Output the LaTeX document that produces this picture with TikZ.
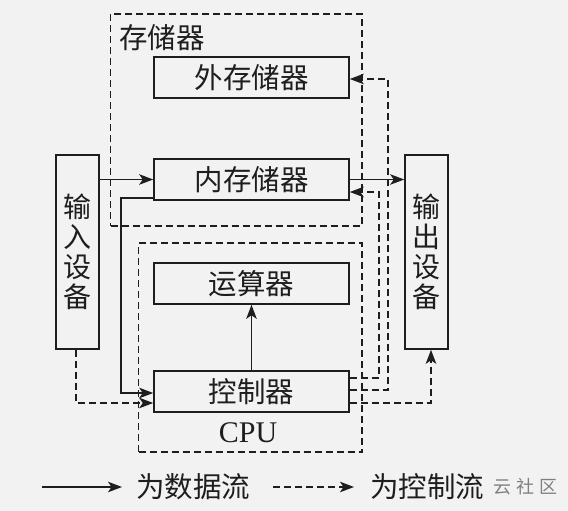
\documentclass[tikz,border=0pt]{standalone}
\usepackage{fontspec}
\setmainfont{Liberation Serif}
\newfontfamily\cjk{Noto Sans CJK SC}
\usetikzlibrary{arrows.meta}
\definecolor{bg}{RGB}{242,242,242}
\definecolor{ink}{RGB}{30,30,30}
\begin{document}
\begin{tikzpicture}[x=1pt,y=-1pt,
  box/.style={draw=ink,line width=1.6pt,minimum width=195pt,minimum height=41pt,inner sep=0pt,text=ink,font=\cjk\fontsize{28.5}{30}\selectfont},
  dev/.style={draw=ink,line width=1.6pt,minimum width=43pt,minimum height=194pt,inner sep=0pt,align=center,text=ink,font=\cjk\fontsize{28}{30}\selectfont},
  group/.style={draw=ink,line width=1.4pt,dash pattern=on 7pt off 4pt,inner sep=0pt},
  lbl/.style={inner sep=0pt,text=ink,font=\cjk\fontsize{28.5}{30}\selectfont},
  tip/.style={-{Stealth[length=14pt,width=10.5pt,inset=3.5pt]}},
  data/.style={draw=ink,line width=1.6pt,tip},
  ctrl/.style={draw=ink,line width=1.5pt,dash pattern=on 7pt off 4pt,tip}]
\fill[bg] (0,0) rectangle (568,511);
\useasboundingbox (0,0) rectangle (568,511);
% groups
\node[group,minimum width=251.3pt,minimum height=212pt] (mem) at (236.35,120) {};
\node[group,minimum width=223.5pt,minimum height=209pt] (cpu) at (250.25,347.5) {};
\node[lbl,anchor=west] (memlbl) at (119,38) {存储器};
\node[inner sep=0pt,text=ink,font=\fontsize{30}{31}\selectfont] (cpulbl) at (248,433) {CPU};
% boxes
\node[box] (wai) at (251.5,77.5) {外存储器};
\node[box] (nei) at (251.5,179.5) {内存储器};
\node[box] (yun) at (251.5,283.5) {运算器};
\node[box] (kong) at (251.5,391.5) {控制器};
\node[dev] (in) at (77.5,252) {输\\入\\设\\备};
\node[dev] (out) at (426.5,252) {输\\出\\设\\备};
% data flow
\draw[data] (in.east |- nei.west) -- (nei.west);
\draw[data] (nei.east) -- (nei.east -| out.west);
\draw[data] ([yshift=-18.5pt]nei.west) -- ++(-32,0) |- ([yshift=-1.5pt]kong.west);
\draw[data] (kong.north) -- (yun.south);
% control flow
\draw[ctrl] ([xshift=-1.5pt]in.south) |- ([yshift=-11.5pt]kong.west);
\draw[ctrl] ([yshift=-11.5pt]kong.east) -| ([xshift=4.5pt]out.south);
\draw[ctrl] ([yshift=1.5pt]kong.east) -- ++(38,0) |- ([yshift=-1.5pt]wai.east);
\draw[ctrl] ([yshift=13.5pt]kong.east) -- ++(29,0) |- ([yshift=-12.5pt]nei.east);
% legend
\coordinate (l1a) at (42,487);
\coordinate (l1b) at (122,487);
\draw[data] (l1a) -- (l1b);
\node[lbl,anchor=west] (l1t) at (136,487) {为数据流};
\coordinate (l2a) at (273,487);
\coordinate (l2b) at (354,487);
\draw[ctrl] (l2a) -- (l2b);
\node[lbl,anchor=west] (l2t) at (370,487) {为控制流};
\node[inner sep=0pt,anchor=west,text=gray,font=\cjk\fontsize{18}{18}\selectfont] (wm) at (493,487) {云\hspace{5pt}社\hspace{5pt}区};
\end{tikzpicture}
\end{document}
